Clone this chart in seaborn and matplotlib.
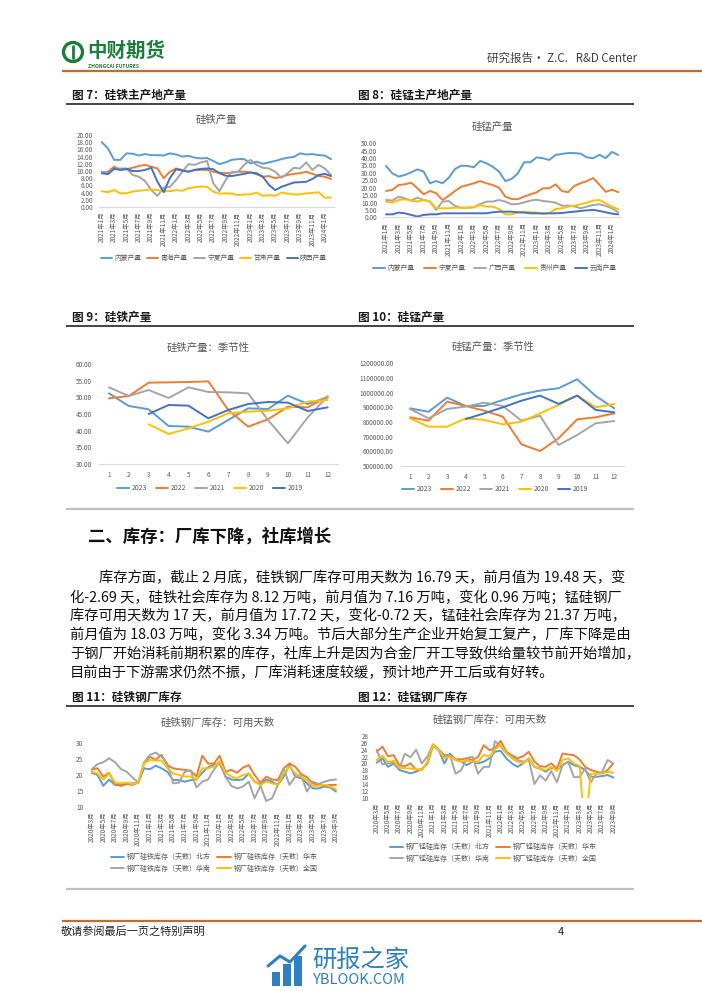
import numpy as np
import pandas as pd
import matplotlib
matplotlib.use('Agg')
import matplotlib.pyplot as plt
import seaborn as sns
from matplotlib.lines import Line2D
from matplotlib.patches import Rectangle, Ellipse

# ---------------- data ----------------
nan = np.nan
# Fig 7: ferrosilicon output by region (2021-01 .. 2024-02, monthly)
fe_tick_labels = ['2021年1月', '2021年3月', '2021年5月', '2021年7月', '2021年9月', '2021年11月',
                  '2022年1月', '2022年3月', '2022年5月', '2022年7月', '2022年9月', '2022年11月',
                  '2023年1月', '2023年3月', '2023年5月', '2023年7月', '2023年9月', '2023年11月',
                  '2024年1月']
fe_neimeng = [18.0, 16.3, 13.1, 13.1, 14.9, 14.8, 14.3, 14.7, 14.4, 14.4, 14.3, 14.9, 14.6, 14.0, 14.2,
              13.7, 13.5, 13.6, 12.8, 11.9, 12.4, 13.1, 13.3, 13.3, 12.1, 12.6, 12.0, 12.4, 12.8, 13.3,
              13.7, 13.9, 14.9, 14.6, 14.7, 14.4, 14.3, 13.3]
fe_qinghai = [9.5, 9.8, 11.2, 10.3, 10.5, 10.9, 11.4, 11.7, 11.2, 10.7, 8.0, 9.8, 10.7, 10.3, 9.8,
              10.3, 10.3, 10.3, 9.8, 9.5, 9.4, 9.5, 9.8, 9.8, 9.6, 9.1, 8.4, 8.6, 8.0, 8.4,
              8.9, 9.2, 9.4, 9.8, 9.2, 8.6, 8.4, 7.8]
fe_ningxia = [9.8, 9.4, 10.6, 10.7, 10.7, 8.9, 8.4, 7.2, 4.7, 3.1, 5.4, 5.6, 7.5, 9.8, 11.9,
              11.7, 12.4, 12.8, 6.6, 4.4, 7.5, 9.8, 9.8, 11.7, 13.1, 11.7, 10.9, 10.7, 9.8, 8.1,
              9.4, 10.9, 10.7, 12.4, 10.3, 11.7, 10.7, 8.9]
fe_gansu = [4.4, 4.1, 4.7, 3.8, 3.8, 4.3, 4.5, 4.7, 4.9, 4.7, 4.4, 4.4, 4.7, 4.5, 5.2,
            5.5, 5.7, 5.6, 4.3, 3.7, 3.8, 3.7, 3.3, 3.5, 3.5, 4.0, 3.1, 3.3, 3.1, 4.0,
            3.7, 3.5, 3.5, 3.8, 3.9, 4.1, 2.6, 2.6]
fe_shaanxi = [9.4, 9.1, 10.6, 10.3, 10.6, 10.0, 10.0, 10.3, 10.9, 7.0, 4.1, 8.0, 10.5, 10.1, 9.8,
              10.3, 10.6, 10.7, 10.5, 9.4, 8.7, 8.6, 8.9, 9.2, 9.6, 9.4, 8.4, 6.1, 4.7, 5.6,
              6.2, 6.8, 6.9, 7.0, 7.8, 8.9, 9.2, 8.6]
fe_region_names = ['内蒙产量', '青海产量', '宁夏产量', '甘肃产量', '陕西产量']

# Fig 8: silicomanganese output by region
mn_neimeng = [34.7, 29.7, 27.5, 28.6, 30.4, 32.4, 30.9, 23.0, 24.5, 23.0, 26.8, 32.7, 34.9, 34.7, 33.8,
              38.1, 36.5, 34.2, 30.9, 24.5, 25.9, 29.7, 37.2, 37.2, 40.5, 39.9, 38.7, 42.1, 42.8, 43.4,
              43.4, 43.0, 40.5, 39.9, 42.3, 40.0, 44.2, 42.1]
mn_ningxia = [17.8, 18.5, 21.8, 22.3, 23.4, 19.6, 15.5, 17.8, 16.2, 11.7, 14.6, 17.8, 20.7, 21.8, 23.0,
              24.5, 23.0, 21.8, 20.0, 14.0, 12.4, 12.2, 14.0, 15.5, 16.9, 19.6, 19.6, 22.3, 17.8, 16.9,
              21.2, 23.0, 24.5, 26.5, 22.0, 17.2, 18.6, 17.0]
mn_guangxi = [11.7, 11.3, 14.0, 12.8, 11.3, 13.3, 11.7, 10.6, 5.0, 10.6, 11.0, 7.7, 6.5, 6.5, 6.8,
              9.0, 10.6, 10.6, 11.7, 10.6, 8.8, 9.0, 10.1, 11.3, 11.9, 11.0, 10.6, 9.9, 7.9, 7.9,
              7.4, 6.1, 7.2, 8.3, 8.8, 7.7, 6.1, 3.4]
mn_guizhou = [10.6, 9.9, 11.7, 12.2, 11.3, 10.6, 11.7, 10.6, 6.1, 6.1, 6.1, 6.5, 6.5, 6.5, 6.8,
              8.3, 7.2, 7.2, 5.6, 2.0, 2.0, 3.2, 3.8, 3.4, 3.2, 2.7, 2.7, 5.6, 6.1, 7.2,
              7.9, 8.8, 9.9, 11.3, 11.7, 9.5, 7.2, 5.4]
mn_yunnan = [2.0, 2.0, 3.2, 2.7, 1.6, 0.5, 1.6, 2.0, 2.0, 2.7, 2.7, 2.7, 2.7, 2.7, 2.7,
             2.7, 2.7, 3.4, 3.8, 3.8, 3.8, 3.4, 3.2, 2.7, 2.7, 2.5, 2.7, 2.7, 2.9, 3.4,
             3.8, 4.3, 4.7, 5.0, 4.3, 3.4, 2.5, 2.0]
mn_region_names = ['内蒙产量', '宁夏产量', '广西产量', '贵州产量', '云南产量']

# Fig 9 / 10: seasonal output
season_months = [1, 2, 3, 4, 5, 6, 7, 8, 9, 10, 11, 12]
season_years = ['2023', '2022', '2021', '2020', '2019']
fe_s_2023 = [51.2, 47.4, 46.4, 41.4, 41.2, 39.7, 43.2, 46.7, 46.5, 50.5, 48.0, 50.0]
fe_s_2022 = [49.7, 50.4, 54.4, 54.5, 54.6, 54.8, 46.2, 41.2, 43.4, 47.2, 47.0, 50.2]
fe_s_2021 = [53.0, 50.4, 52.2, 49.8, 53.0, 51.6, 51.5, 51.2, 43.2, 36.2, 44.0, 50.3]
fe_s_2020 = [nan, nan, 41.9, 39.0, 40.7, 42.7, 45.2, 45.7, 46.0, 46.7, 48.7, 49.2]
fe_s_2019 = [nan, nan, 45.0, 47.7, 47.5, 43.7, 46.2, 48.0, 48.6, 48.4, 45.9, 47.0]

mn_s_2023 = [893000, 870000, 966000, 909000, 909000, 950000, 989000, 1014000, 1030000, 1091000, 977000, 893000]
mn_s_2022 = [832000, 809000, 939000, 909000, 877000, 836000, 648000, 602000, 689000, 818000, 832000, 859000]
mn_s_2021 = [889000, 825000, 889000, 905000, 932000, 909000, 809000, 843000, 643000, 711000, 791000, 807000]
mn_s_2020 = [825000, 768000, 768000, 825000, 814000, 784000, 802000, 859000, 916000, 980000, 900000, 923000]
mn_s_2019 = [nan, nan, nan, 820000, 859000, 900000, 945000, 980000, 923000, 980000, 882000, 866000]

# Fig 11 / 12: mill inventory days (2020-03 .. 2023-09, monthly)
stock_tick_labels = ['2020年3月', '2020年5月', '2020年7月', '2020年9月', '2020年11月',
                     '2021年1月', '2021年3月', '2021年5月', '2021年7月', '2021年9月', '2021年11月',
                     '2022年1月', '2022年3月', '2022年5月', '2022年7月', '2022年9月', '2022年11月',
                     '2023年1月', '2023年3月', '2023年5月', '2023年7月', '2023年9月']
fe_stock_north = [20.7, 20.0, 16.6, 18.6, 16.9, 17.1, 17.2, 17.4, 17.6, 22.1, 21.8, 22.9, 22.1, 21.0, 18.4,
                  18.4, 17.9, 18.4, 18.6, 20.7, 22.4, 23.3, 23.6, 19.5, 18.6, 18.4, 18.6, 20.5, 17.9, 17.1,
                  18.6, 17.9, 16.9, 19.5, 23.1, 19.5, 19.0, 17.4, 15.8, 15.8, 16.4, 16.1, 14.8]
fe_stock_east = [21.6, 22.1, 19.5, 20.7, 17.1, 16.6, 17.2, 16.9, 17.6, 23.6, 25.7, 24.7, 26.3, 23.1, 22.1,
                 21.8, 21.6, 21.4, 19.5, 26.0, 23.6, 23.6, 26.0, 21.0, 21.6, 20.7, 22.3, 23.1, 20.0, 17.6,
                 19.5, 18.6, 18.4, 22.1, 23.6, 22.6, 20.3, 19.3, 17.4, 16.9, 16.6, 16.9, 16.9]
fe_stock_south = [21.8, 23.4, 24.0, 25.2, 24.0, 21.9, 21.0, 19.3, 17.6, 23.9, 26.3, 27.0, 25.7, 23.6, 17.4,
                  17.6, 21.0, 21.4, 16.1, 17.9, 18.6, 21.6, 24.2, 19.5, 16.6, 15.8, 16.4, 17.9, 12.7, 16.6,
                  11.9, 12.7, 16.9, 22.1, 16.9, 19.5, 20.0, 14.8, 17.9, 17.2, 17.9, 18.4, 18.6]
fe_stock_nation = [21.0, 20.5, 18.6, 20.5, 17.6, 17.4, 17.6, 17.2, 17.6, 23.6, 24.7, 24.5, 24.5, 22.1, 20.5,
                   20.0, 19.5, 19.5, 18.6, 22.1, 22.1, 22.6, 24.2, 20.7, 19.5, 19.0, 20.0, 20.5, 17.9, 16.9,
                   17.9, 17.4, 16.9, 20.5, 22.6, 20.5, 19.5, 18.4, 16.6, 16.6, 16.9, 16.4, 15.5]
fe_stock_names = ['钢厂硅铁库存（天数）北方', '钢厂硅铁库存（天数）华东',
                  '钢厂硅铁库存（天数）华南', '钢厂硅铁库存（天数）全国']

mn_stock_north = [20.2, 21.5, 19.0, 20.0, 18.1, 17.6, 17.1, 17.6, 18.3, 20.0, 25.3, 23.9, 20.0, 22.9, 21.0,
                  20.5, 19.5, 20.5, 20.0, 20.5, 21.5, 23.4, 23.7, 21.5, 20.0, 19.0, 20.0, 21.5, 19.0, 18.5,
                  17.6, 18.8, 18.1, 19.5, 20.5, 19.5, 19.0, 18.1, 16.1, 16.1, 16.3, 16.6, 15.9]
mn_stock_east = [23.4, 24.9, 22.1, 22.4, 19.5, 19.2, 20.0, 18.1, 18.3, 20.2, 25.3, 24.1, 22.4, 22.4, 21.2,
                 21.2, 21.5, 21.0, 21.9, 25.3, 23.9, 24.4, 26.6, 23.4, 22.4, 21.5, 22.1, 23.4, 20.5, 19.2,
                 19.0, 20.0, 18.5, 22.9, 22.6, 22.4, 21.2, 19.0, 18.1, 17.6, 17.1, 18.1, 20.0]
mn_stock_south = [24.0, 19.7, 20.0, 20.3, 18.5, 22.8, 21.8, 24.0, 20.0, 22.0, 25.6, 24.0, 22.0, 22.5, 17.0,
                  18.0, 21.5, 22.0, 17.0, 19.0, 19.0, 26.5, 25.0, 23.0, 22.0, 21.0, 20.5, 21.0, 14.0, 16.5,
                  15.0, 17.8, 14.5, 19.5, 20.5, 16.0, 16.0, 18.5, 14.5, 17.0, 17.5, 21.0, 20.0]
mn_stock_nation = [21.0, 22.3, 20.3, 20.8, 18.8, 18.6, 18.5, 18.3, 18.0, 20.5, 25.5, 24.0, 21.5, 22.0, 21.0,
                   20.5, 20.8, 20.5, 20.5, 22.5, 22.0, 24.0, 25.5, 23.0, 21.5, 20.5, 20.0, 21.5, 19.0, 18.5,
                   18.0, 19.0, 17.8, 21.0, 21.5, 20.0, 19.3, 0.0, 17.0, 17.0, 17.0, 17.5, 17.3]
mn_stock_names = ['钢厂锰硅库存（天数）北方', '钢厂锰硅库存（天数）华东',
                  '钢厂锰硅库存（天数）华南', '钢厂锰硅库存（天数）全国']

# ---------------- style ----------------
sns.set_theme(style='white')
plt.rcParams['font.family'] = ['Noto Sans CJK SC', 'DejaVu Sans']
plt.rcParams['axes.unicode_minus'] = False

BLUE, ORANGE, GRAY, GOLD, DBLUE = '#5B9BD5', '#ED7D31', '#A5A5A5', '#FFC000', '#4472C4'
PALETTE = [BLUE, ORANGE, GRAY, GOLD, DBLUE]
TXT = '#595959'
W, H = 702, 991

fig = plt.figure(figsize=(7.02, 9.91), dpi=100)
fig.patch.set_facecolor('white')


def fx(x):
    return x / W


def fy(y):
    return 1 - y / H


def add_ax(left, top, right, bottom):
    ax = fig.add_axes([fx(left), fy(bottom), (right - left) / W, (bottom - top) / H])
    ax.set_facecolor('none')
    return ax


def hline(x0, x1, y, color, lw):
    fig.add_artist(Line2D([fx(x0), fx(x1)], [fy(y), fy(y)], transform=fig.transFigure,
                          color=color, lw=lw, solid_capstyle='butt'))


def ftext(x, y, s, **kw):
    fig.text(fx(x), fy(y), s, **kw)


def draw_lines(ax, xvals, names, series, colors, lw=1.4):
    frames = []
    for n, vals in zip(names, series):
        frames.append(pd.DataFrame({'x': xvals, 'y': vals, 's': n}))
    df = pd.concat(frames, ignore_index=True).dropna()
    sns.lineplot(data=df, x='x', y='y', hue='s', hue_order=names, palette=colors,
                 linewidth=lw, legend=False, ax=ax, sort=False, estimator=None)


def style_ax(ax, xlim, ylim, yticks, ylabels, xticks, xlabels, rot, xpad, ypad, bottom_line=True):
    ax.set_xlim(*xlim)
    ax.set_ylim(*ylim)
    ax.set_yticks(yticks)
    ax.set_yticklabels(ylabels)
    ax.set_xticks(xticks)
    ax.set_xticklabels(xlabels, rotation=rot)
    ax.set_xlabel('')
    ax.set_ylabel('')
    for s in ['top', 'right', 'left']:
        ax.spines[s].set_visible(False)
    ax.spines['bottom'].set_visible(bottom_line)
    ax.spines['bottom'].set_color('#D9D9D9')
    ax.spines['bottom'].set_linewidth(0.8)
    ax.tick_params(axis='both', length=0, labelsize=4.6, colors=TXT)
    ax.tick_params(axis='x', pad=xpad)
    ax.tick_params(axis='y', pad=ypad)
    ax.grid(False)


def legend(ax, names, colors, cx, cy, ncol, fs=4.9, hl=1.7, colsp=1.0, order=None):
    handles = [Line2D([0], [0], color=c, lw=1.4) for c in colors]
    labels = list(names)
    if order is not None:
        handles = [handles[i] for i in order]
        labels = [labels[i] for i in order]
    ax.legend(handles, labels, loc='center', bbox_to_anchor=(fx(cx), fy(cy)),
              bbox_transform=fig.transFigure, ncol=ncol, frameon=False, fontsize=fs,
              handlelength=hl, handletextpad=0.35, columnspacing=colsp, labelspacing=0.55,
              labelcolor=TXT, borderpad=0)


# ---------------- page decorations ----------------
# logo
GREEN = '#1B7F3B'
fig.add_artist(Ellipse((fx(73), fy(52)), 19 / W, 19 / H, transform=fig.transFigure,
                       fill=False, ec=GREEN, lw=2.4))
fig.add_artist(Line2D([fx(73), fx(73)], [fy(46), fy(58)], transform=fig.transFigure, color=GREEN, lw=2.0))
ftext(87, 51, '中财期货', fontsize=14, fontweight='bold', color=GREEN, ha='left', va='center')
ftext(88, 66, 'ZHONGCAI FUTURES', fontsize=3.6, fontweight='bold', color=GREEN, ha='left', va='center')
ftext(637, 58, '研究报告· Z.C.   R&D Center', fontsize=8.3, color='#404040', ha='right', va='center')
hline(62, 702, 71, '#C46A33', 1.6)

# captions
for (x, y, s) in [(72, 95, '图 7：硅铁主产地产量'), (358, 95, '图 8：硅锰主产地产量'),
                  (72, 317, '图 9：硅铁产量'), (358, 317, '图 10：硅锰产量'),
                  (72, 697, '图 11：硅铁钢厂库存'), (358, 697, '图 12：硅锰钢厂库存')]:
    ftext(x, y, s, fontsize=8.4, fontweight='bold', color='#1A1A1A', ha='left', va='center')
for y in [104, 326, 706]:
    hline(66, 634, y, '#111111', 1.1)
for y in [509, 889]:
    hline(66, 634, y, '#BFBFBF', 1.6)

# section heading and paragraph
ftext(88, 537, '二、库存：厂库下降，社库增长', fontsize=12.5, fontweight='bold', color='#111111',
      ha='left', va='center')
para_lines = [
    '库存方面，截止 2 月底，硅铁钢厂库存可用天数为 16.79 天，前月值为 19.48 天，变',
    '化-2.69 天，硅铁社会库存为 8.12 万吨，前月值为 7.16 万吨，变化 0.96 万吨；锰硅钢厂',
    '库存可用天数为 17 天，前月值为 17.72 天，变化-0.72 天，锰硅社会库存为 21.37 万吨，',
    '前月值为 18.03 万吨，变化 3.34 万吨。节后大部分生产企业开始复工复产，厂库下降是由',
    '于钢厂开始消耗前期积累的库存，社库上升是因为合金厂开工导致供给量较节前开始增加，',
    '目前由于下游需求仍然不振，厂库消耗速度较缓，预计地产开工后或有好转。',
]
for k, line in enumerate(para_lines):
    ftext(99 if k == 0 else 70, 578 + 19 * k, line, fontsize=10.3, color='#111111', ha='left', va='center')

# footer
hline(62, 702, 921, '#C46A33', 1.6)
ftext(61, 932, '敬请参阅最后一页之特别声明', fontsize=8, color='#222222', ha='left', va='center')
ftext(561, 932, '4', fontsize=8, color='#222222', ha='center', va='center')
WM = '#2F80C0'
for (x0, h) in [(272, 14), (283, 22), (294, 30)]:
    fig.add_artist(Rectangle((fx(x0), fy(986)), 8 / W, h / H, transform=fig.transFigure, color=WM, lw=0))
fig.add_artist(Line2D([fx(268), fx(280), fx(290), fx(305)], [fy(966), fy(956), fy(962), fy(946)],
                      transform=fig.transFigure, color=WM, lw=2.2))
ftext(312, 960, '研报之家', fontsize=17.5, color=WM, ha='left', va='center')
ftext(313, 980, 'YBLOOK.COM', fontsize=10.5, color=WM, ha='left', va='center')

# ---------------- Fig 7 ----------------
n1 = len(fe_neimeng)
x1 = list(range(n1))
ax1 = add_ax(98.6, 135, 334.1, 207)
draw_lines(ax1, x1, fe_region_names, [fe_neimeng, fe_qinghai, fe_ningxia, fe_gansu, fe_shaanxi], PALETTE)
style_ax(ax1, (-0.5, n1 - 0.5), (0, 20), list(range(0, 21, 2)),
         ['%.2f' % v for v in range(0, 21, 2)], list(range(0, n1, 2)), fe_tick_labels, 90, 3.5, 4)
ftext(216, 120, '硅铁产量', fontsize=7.5, color=TXT, ha='center', va='center')
legend(ax1, fe_region_names, PALETTE, 214, 258, 5, hl=1.6, colsp=0.9)

# ---------------- Fig 8 ----------------
n2 = len(mn_neimeng)
x2 = list(range(n2))
ax2 = add_ax(382.9, 143.3, 621.4, 217.3)
draw_lines(ax2, x2, mn_region_names, [mn_neimeng, mn_ningxia, mn_guangxi, mn_guizhou, mn_yunnan], PALETTE)
style_ax(ax2, (-0.5, n2 - 0.5), (0, 50), list(range(0, 51, 5)),
         ['%.2f' % v for v in range(0, 51, 5)], list(range(0, n2, 2)), fe_tick_labels, 90, 3.5, 4)
ftext(492, 127, '硅锰产量', fontsize=7.5, color=TXT, ha='center', va='center')
legend(ax2, mn_region_names, PALETTE, 495, 268, 5, hl=1.8, colsp=1.3)

# ---------------- Fig 9 ----------------
ax3 = add_ax(99, 364, 337.6, 464)
draw_lines(ax3, season_months, season_years, [fe_s_2023, fe_s_2022, fe_s_2021, fe_s_2020, fe_s_2019], PALETTE)
style_ax(ax3, (0.5, 12.5), (30, 60), list(range(30, 61, 5)),
         ['%.2f' % v for v in range(30, 61, 5)], season_months, [str(m) for m in season_months], 0, 5, 5)
ftext(208, 348, '硅铁产量：季节性', fontsize=7.5, color=TXT, ha='center', va='center')
legend(ax3, season_years, PALETTE, 210, 488, 5, hl=1.8, colsp=1.3)

# ---------------- Fig 10 ----------------
ax4 = add_ax(400.7, 363.3, 623.6, 466)
draw_lines(ax4, season_months, season_years, [mn_s_2023, mn_s_2022, mn_s_2021, mn_s_2020, mn_s_2019], PALETTE)
mn_yt = list(range(500000, 1200001, 100000))
style_ax(ax4, (0.5, 12.5), (500000, 1200000), mn_yt, ['%.2f' % v for v in mn_yt],
         season_months, [str(m) for m in season_months], 0, 5, 5)
ftext(493, 347, '硅锰产量：季节性', fontsize=7.5, color=TXT, ha='center', va='center')
legend(ax4, season_years, PALETTE, 495, 489, 5, hl=1.8, colsp=1.3)

# ---------------- Fig 11 ----------------
n5 = len(fe_stock_north)
x5 = list(range(n5))
ax5 = add_ax(88.8, 743, 338.9, 807)
STOCK_PAL = [BLUE, ORANGE, GRAY, GOLD]
draw_lines(ax5, x5, fe_stock_names, [fe_stock_north, fe_stock_east, fe_stock_south, fe_stock_nation], STOCK_PAL)
style_ax(ax5, (-0.5, n5 - 0.5), (10, 30), list(range(10, 31, 5)),
         [str(v) for v in range(10, 31, 5)], list(range(0, n5, 2)), stock_tick_labels, 90, 3.5, 4,
         bottom_line=False)
ftext(218, 723, '硅铁钢厂库存：可用天数', fontsize=7.5, color=TXT, ha='center', va='center')
legend(ax5, fe_stock_names, STOCK_PAL, 214, 863, 2, fs=5.0, hl=2.0, colsp=0.9, order=[0, 2, 1, 3])

# ---------------- Fig 12 ----------------
n6 = len(mn_stock_north)
x6 = list(range(n6))
ax6 = add_ax(373.9, 736, 616.1, 797.7)
draw_lines(ax6, x6, mn_stock_names, [mn_stock_north, mn_stock_east, mn_stock_south, mn_stock_nation], STOCK_PAL)
style_ax(ax6, (-0.5, n6 - 0.5), (10, 28), list(range(10, 29, 2)),
         [str(v) for v in range(10, 29, 2)], list(range(0, n6, 2)), stock_tick_labels, 90, 3.5, 4,
         bottom_line=False)
ftext(490, 720, '硅锰钢厂库存：可用天数', fontsize=7.5, color=TXT, ha='center', va='center')
legend(ax6, mn_stock_names, STOCK_PAL, 493, 853, 2, fs=5.0, hl=2.0, colsp=0.9, order=[0, 2, 1, 3])

fig.savefig('out.png', dpi=100, facecolor='white')
